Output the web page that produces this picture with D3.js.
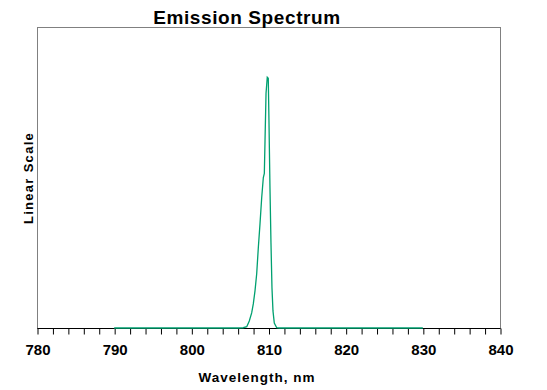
<!DOCTYPE html>
<html>
<head>
    <title>Emission Spectrum</title>
    <script src='https://d3js.org/d3.v7.min.js' charset='utf-8'></script>
    <style type="text/css">
        body { margin: 0; background: #fff; }
        .chart text {
            font-family: Arial, 'Liberation Sans', sans-serif;
            font-weight: bold;
            fill: #000;
        }
    </style>
</head>
<body>
    <svg class='chart'></svg>

    <script type='text/javascript'>
    // wavelength (nm) and relative intensity
    var wavelengths = [790, 805.96, 806.73, 807.18, 807.51, 807.82, 808.03, 808.25, 808.47, 808.68,
        808.90, 809.12, 809.33, 809.46, 809.55, 809.68, 809.84, 809.97, 810.06, 810.19,
        810.32, 810.45, 810.58, 810.75, 811.06, 811.40, 830];
    var intensity = [0, 0, 0.001, 0.005, 0.028, 0.06, 0.096, 0.148, 0.216, 0.32,
        0.416, 0.52, 0.60, 0.616, 0.748, 0.936, 1.0, 0.996, 0.828, 0.56,
        0.34, 0.16, 0.068, 0.02, 0.001, 0, 0];
    var xTicks = [780, 790, 800, 810, 820, 830, 840];

    var width = 547;
    var height = 390;
    // note: "top" clashes with window.top, so use plot* names
    var plotLeft = 37, plotRight = 500, plotTop = 27, plotBottom = 328;

    var x = d3.scaleLinear().domain([780, 840]).range([plotLeft, plotRight]);
    var y = d3.scaleLinear().domain([0, 1.2]).range([plotBottom, plotTop]);

    var chart = d3.select('.chart')
        .attr('width', width)
        .attr('height', height);

    // plot frame
    chart.append('rect')
        .attr('x', plotLeft + 0.5)
        .attr('y', plotTop + 0.5)
        .attr('width', plotRight - plotLeft)
        .attr('height', plotBottom - plotTop)
        .attr('fill', 'none')
        .attr('stroke', '#808080');

    // bottom axis with minor ticks every 2 nm
    var axis = d3.axisBottom(x)
        .tickValues(d3.range(780, 841, 2))
        .tickSize(6)
        .tickFormat(function (d) { return xTicks.indexOf(d) >= 0 ? d : ''; });

    var gx = chart.append('g')
        .attr('transform', 'translate(0.5,' + (plotBottom + 0.5) + ')')
        .call(axis);
    gx.select('.domain').attr('stroke', '#000').attr('d', 'M' + plotLeft + ',0H' + plotRight);
    gx.selectAll('.tick line').attr('stroke', '#000');
    gx.selectAll('.tick text')
        .attr('y', 16)
        .attr('dy', '0.71em')
        .style('font-size', '15px');

    var points = wavelengths.map(function (w, i) { return [w, intensity[i]]; });
    var line = d3.line()
        .x(function (d) { return x(d[0]); })
        .y(function (d) { return y(d[1]); });

    chart.append('path')
        .datum(points)
        .attr('d', line)
        .attr('fill', 'none')
        .attr('stroke', '#00a070')
        .attr('stroke-width', 1.3);

    chart.append('text')
        .attr('x', 247)
        .attr('y', 24)
        .attr('text-anchor', 'middle')
        .style('font-size', '19px')
        .style('letter-spacing', '0.6px')
        .text('Emission Spectrum');

    chart.append('text')
        .attr('x', 257)
        .attr('y', 382)
        .attr('text-anchor', 'middle')
        .style('font-size', '13.5px')
        .style('letter-spacing', '1px')
        .text('Wavelength, nm');

    chart.append('text')
        .attr('transform', 'translate(33,178) rotate(-90)')
        .attr('text-anchor', 'middle')
        .style('font-size', '13px')
        .style('letter-spacing', '1.3px')
        .text('Linear Scale');
    </script>
</body>
</html>
